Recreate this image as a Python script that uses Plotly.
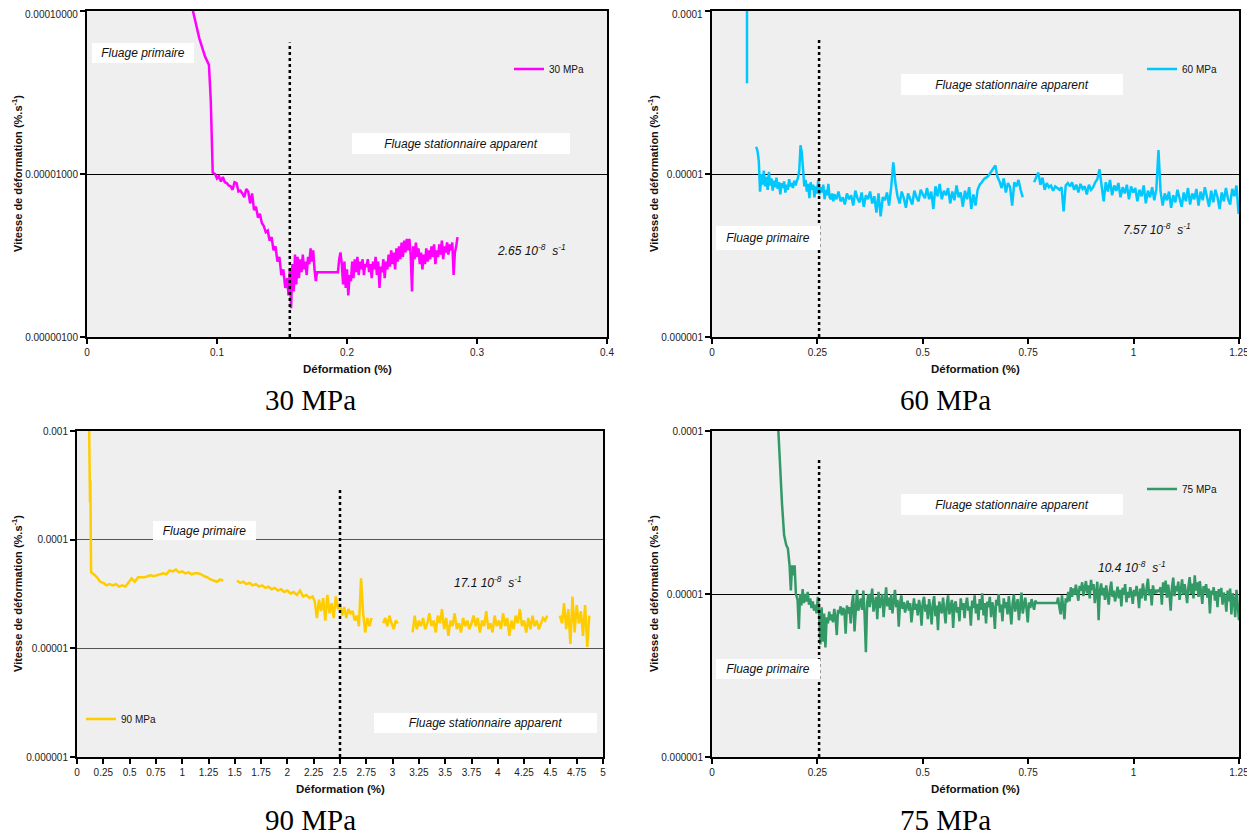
import plotly.graph_objects as go

# ---------------------------------------------------------------
# DATA  (strain in %, strain rate listed in units of 1e-6 %/s)
# ---------------------------------------------------------------
U = 1e-6

def sampled(x0, dx, ys):
    """x positions of a regularly sampled record (start, step)."""
    return [round(x0 + i * dx, 5) for i in range(len(ys))]

# ---- 30 MPa ----
x30_head = [0.0815, 0.0864, 0.0908, 0.0938, 0.0952, 0.0967]
y30_head = [100, 68, 52.5, 46.7, 28.4, 10.2]
y30_decay = [10.0, 9.4, 9.7, 9.0, 9.6, 8.9, 8.8, 8.5, 8.4, 8.0, 8.9, 8.8, 7.8, 7.9, 7.6, 7.2,
             8.1, 7.8, 6.6, 7.6, 6.0, 6.3, 5.4, 5.7, 5.0, 4.8, 4.4, 4.5, 3.9, 4.1, 3.4, 3.6,
             2.9, 3.1, 2.4, 2.6, 2.0]                         # from 0.0985 %, every 0.0015 %
y30_min = [2.3, 1.8, 2.6, 1.5, 2.8, 1.9, 3.2, 2.1, 3.1, 2.3, 3.0, 2.5, 3.2, 2.6, 2.9, 2.4,
           3.1, 2.8, 3.5, 2.9, 3.4, 2.6, 2.2, 2.5]            # from 0.154 %, every 0.001 %
x30_flat = [0.193]
y30_flat = [2.5]
y30_steady = [3.0, 3.3, 2.8, 2.1, 2.9, 2.0, 2.6, 1.8, 2.4, 2.2, 2.9, 2.3, 3.0, 2.5, 3.1, 2.4,
              2.9, 2.6, 3.0, 2.4, 2.8, 2.7, 3.0, 2.5, 2.8, 2.3, 2.9, 2.6, 3.1, 2.4, 2.9, 2.0,
              2.7, 2.5, 3.0, 2.3, 2.9, 2.6, 3.2, 2.7, 3.4, 2.8, 3.3, 2.6, 3.5, 2.9, 3.6, 3.0,
              3.8, 3.1, 3.9, 3.3, 4.0, 3.4, 4.0, 3.2, 1.9, 3.6, 3.0, 3.8, 3.1, 3.5, 2.8, 3.3,
              2.6, 3.2, 2.8, 3.5, 2.9, 3.4, 3.0, 3.6, 3.1, 3.7, 2.8, 3.4, 3.1, 3.7, 3.2, 3.9,
              3.0, 3.6, 3.3, 3.8, 3.2, 3.7, 3.4, 3.8, 2.4, 3.3, 3.6, 4.1]   # from 0.194 %, every 0.001 %

# ---- 60 MPa ----
x60_start = [0.083, 0.083]
y60_start = [120, 36]
y60_a = [14.7, 13.8, 12.0, 7.8, 10.0, 8.6, 10.5, 8.4, 9.6, 8.0, 10.3, 8.5, 9.4, 7.9, 9.1, 8.3,
         9.5, 8.1, 8.9, 7.5, 8.8, 8.2, 9.0, 7.7, 8.6, 8.0, 9.3, 8.4, 8.8, 8.2, 9.1, 8.5,
         9.0, 9.5, 10.5, 15.0, 13.5, 10.2, 8.4, 9.2, 7.8, 8.7, 7.1, 8.9, 8.0, 8.6, 7.2, 8.4,
         7.6, 9.2, 7.5, 8.3, 7.7, 8.6, 7.0, 8.0, 7.4, 8.7, 7.2, 7.0, 7.6, 6.8]   # from 0.105 %, every 0.003 %
y60_b = [7.5, 7.0, 7.8, 6.8, 7.2, 6.5, 7.6, 7.0, 7.4, 6.4, 7.9, 7.1, 6.7, 7.7, 6.3, 7.4,
         7.0, 7.8, 6.6, 7.3, 5.8, 7.6, 5.5, 7.2, 6.9, 7.7, 6.4, 8.3, 11.8, 8.8, 7.3, 6.6,
         7.8, 7.1, 6.2, 7.6, 7.0, 6.5, 7.9, 7.2, 6.8, 8.0, 7.5, 7.1, 8.2, 7.0, 7.8, 6.1,
         8.4, 7.3, 8.7, 7.0, 7.9, 7.4, 8.2, 6.6, 7.8, 6.9, 8.5, 7.2, 7.7, 6.3, 7.9, 7.0,
         8.3, 6.1, 7.5, 6.4, 8.0, 8.6, 8.9, 9.3, 9.5, 9.7]               # from 0.290 %, every 0.005 %
y60_c = [11.3, 9.6, 9.0, 8.2, 9.4, 7.7, 8.8, 8.3, 6.4, 8.9, 8.4, 9.2, 8.0, 7.2]   # from 0.672 %, every 0.005 %
y60_d = [8.9, 9.6, 10.2, 8.6, 9.5, 8.0, 8.8, 8.3, 8.5, 7.9, 8.4, 8.2, 8.0, 8.3, 5.9, 8.5,
         8.8, 8.4, 8.9, 8.0, 8.6, 7.7, 8.7, 8.1, 8.4, 7.5, 8.6, 8.0, 8.3, 8.9, 9.3, 10.7,
         8.6, 6.8, 8.9, 7.8, 9.2, 7.4, 8.5, 7.9, 8.8, 7.2, 8.3, 7.6, 8.6, 7.0, 8.4, 7.7,
         8.2, 6.8, 8.0, 7.3, 8.5, 6.6, 7.9, 7.2, 8.3, 6.9, 8.1, 14.0, 7.8, 6.4, 7.6, 6.9,
         7.8, 6.2, 7.4, 6.7, 8.0, 7.0, 6.3, 7.7, 6.8, 8.2, 6.5, 7.6, 7.0, 8.1, 6.4, 7.8,
         6.9, 8.3, 7.1, 6.3, 7.9, 6.7, 8.0, 7.2, 6.1, 7.7, 6.8, 8.2, 7.0, 6.5, 8.1, 7.3,
         8.5, 5.7]                                                        # from 0.764 %, every 0.005 %

# ---- 90 MPa ----
x90_head = [0.115, 0.118, 0.121, 0.124, 0.127, 0.130, 0.134]
y90_head = [1100, 400, 700, 220, 350, 150, 50]
y90_a = [48, 45, 41, 40, 38, 39, 38, 39, 37, 38, 37, 40, 44, 41, 45, 45, 45, 46, 47, 46, 47,
         48, 49, 48, 52, 51, 53, 50, 51, 49, 50, 48, 49, 49, 48, 46, 45, 43, 42, 41, 43, 42]  # from 0.16 %, every 0.03 %
y90_b = [42, 40, 41, 39, 40, 38, 39, 37, 38, 36, 37, 35, 36, 34, 35, 33, 34, 32, 33, 31, 34,
         30, 31, 29, 30]                                                  # from 1.52 %, every 0.03 %
y90_c = [27, 19, 28, 22, 29, 18, 31, 21, 26, 19, 30, 23, 26, 20, 24, 19, 23, 21, 22, 18, 20,
         16, 44, 21, 14, 19, 16, 19]                                      # from 2.26 %, every 0.02 %
y90_d = [17, 19, 16, 20, 17, 15, 18, 17]                                  # from 2.91 %, every 0.02 %
y90_e = [14, 20, 15, 18, 16, 19, 15, 17, 21, 16, 18, 14, 20, 17, 23, 15, 19, 13, 18, 16, 21,
         15, 17, 14, 19, 16, 18, 15, 17, 20, 16, 19, 14, 18, 16, 22, 15, 17, 14, 20, 16, 18,
         15, 21, 16, 19, 13, 18, 15, 20, 17, 23, 16, 18, 14, 19, 15, 20, 16, 18, 15, 17, 19,
         18, 20]                                                          # from 3.19 %, every 0.02 %
y90_f = [20, 17, 26, 15, 23, 11, 30, 14, 25, 17, 22, 13, 25, 10.3, 20]  # from 4.59 %, every 0.02 %

# ---- 75 MPa ----
x75_head = [0.157, 0.162, 0.166, 0.171, 0.176, 0.180, 0.184, 0.187, 0.190, 0.193, 0.196,
            0.199, 0.203, 0.206]
y75_head = [105, 55, 36, 23, 20, 19, 15, 10.5, 15, 13, 15, 10, 9.2, 6.1]
y75_a = [10.0, 8.5, 10.7, 8.8, 10.0, 9.0, 10.3, 8.6, 9.4, 8.2, 9.0, 7.9, 8.6, 7.6, 9.6, 7.8,
         4.9, 8.3, 5.1, 7.6, 4.7, 7.2, 6.6, 7.8, 6.9, 7.5, 6.7, 8.1, 7.2, 5.6, 8.0, 7.6,
         8.4, 7.4, 8.2, 7.9, 5.7, 8.5, 7.6, 8.3, 6.6, 8.8, 9.9, 5.9, 8.7, 10.6, 7.9, 8.6,
         9.4, 8.0, 10.5, 7.4, 4.4, 8.9, 10.0, 8.3, 9.2, 10.8, 7.8, 8.5, 9.6, 7.0, 10.3, 8.2,
         8.9, 10.0, 7.2, 8.6, 11.0, 8.4, 9.5, 8.0, 10.0, 7.6, 8.8, 10.6, 8.3, 9.2, 6.3, 8.7,
         9.8, 8.1, 8.9, 7.7, 8.4, 9.1, 7.9, 8.8, 6.7, 8.5, 9.4, 8.0, 8.7, 7.4, 9.2, 8.3,
         6.4, 8.9, 9.6, 7.8, 8.6, 7.0, 9.3, 8.1, 6.5, 8.8, 9.7, 7.3, 8.5, 6.0, 9.0, 8.2,
         7.6, 9.5, 8.0, 6.6, 8.7, 9.8, 7.5, 8.4, 9.2, 6.2, 8.6, 9.0, 7.7, 8.3, 6.8, 9.4,
         8.0, 8.8, 7.1, 8.6, 9.5, 7.9, 8.4, 6.4, 9.1, 8.2, 9.8, 7.6, 8.7, 6.9, 9.3, 8.0,
         10.1, 7.4, 8.8, 6.6, 9.0, 8.3, 9.6, 7.2, 8.9, 8.1, 6.1, 9.2, 8.5, 10.0, 7.7, 8.6,
         6.8, 9.4, 8.2, 8.9, 7.5, 9.7, 8.0, 6.5, 8.8, 9.9, 7.8, 8.6, 9.3, 6.9, 8.4, 10.2,
         7.6, 8.8, 9.5, 8.1, 6.7, 8.9, 8.2, 9.3, 8.5, 8.0, 9.1, 8.8]     # from 0.209 %, every 0.003 %
x75_flat = [0.818]
y75_flat = [8.8]
y75_b = [9.5, 8.3, 7.5, 9.8, 8.6, 7.0, 9.4, 8.9, 10.3, 9.0, 11.0, 9.6, 10.8, 9.9, 11.4, 10.2,
         9.1, 11.2, 10.5, 11.8, 9.7, 10.9, 12.0, 10.1, 11.3, 9.4, 12.2, 10.6, 11.5, 8.8, 10.9,
         11.9, 6.9, 10.4, 11.6, 9.8, 10.9, 9.2, 11.3, 10.0, 8.6, 10.7, 11.9, 9.6, 10.5, 9.0,
         10.2, 11.1, 9.4, 10.6, 8.4, 10.9, 9.9, 11.5, 8.9, 10.3, 9.5, 11.0, 10.1, 8.7, 10.6,
         9.7, 11.2, 10.0, 8.2, 10.8, 9.4, 11.6, 10.3, 9.1, 10.9, 12.4, 9.8, 10.7, 8.5, 11.3,
         10.0, 10.6, 10.3, 10.5, 10.4, 11.0, 8.6, 11.8, 10.2, 12.1, 9.5, 11.4, 10.0, 7.9, 11.0,
         12.6, 9.7, 11.2, 10.4, 11.9, 9.2, 10.8, 12.3, 9.9, 11.5, 10.2, 8.8, 11.1, 12.7, 10.0,
         11.6, 9.4, 13.0, 10.5, 11.8, 9.6, 12.0, 10.3, 8.7, 11.2, 10.1, 11.5, 9.5, 10.8, 7.6,
         10.5, 9.9, 11.0, 9.1, 10.4, 8.3, 10.7, 9.6, 10.9, 8.6, 10.2, 9.4, 7.8, 10.5, 9.0,
         10.8, 7.5, 10.1, 9.3, 7.2, 10.6, 8.4, 6.9]                       # from 0.821 %, every 0.003 %

# transition strain (end of primary creep) and apparent steady-state rates
divider_x = {"30": 0.156, "60": 0.254, "90": 2.5, "75": 0.254}
divider_top = {"30": 64, "60": 69, "90": 305, "75": 68}       # in 1e-6 %/s
steady_rate = {"30": "2.65", "60": "7.57", "90": "17.1", "75": "10.4"}


def join(*segments, gap=0.02):
    xs, ys = [], []
    for sx, sy in segments:
        if xs and sx[0] - xs[-1] > gap:
            xs.append(None); ys.append(None)
        xs += list(sx)
        ys += [v * U for v in sy]
    return xs, ys


x30, y30 = join((x30_head, y30_head), (sampled(0.0985, 0.0015, y30_decay), y30_decay),
                (sampled(0.154, 0.001, y30_min), y30_min), (x30_flat, y30_flat),
                (sampled(0.194, 0.001, y30_steady), y30_steady), gap=1)
x60, y60 = join((x60_start, y60_start), (sampled(0.105, 0.003, y60_a), y60_a),
                (sampled(0.290, 0.005, y60_b), y60_b), (sampled(0.672, 0.005, y60_c), y60_c),
                (sampled(0.764, 0.005, y60_d), y60_d))
x90, y90 = join((x90_head, y90_head), (sampled(0.16, 0.03, y90_a), y90_a),
                (sampled(1.52, 0.03, y90_b), y90_b), (sampled(2.26, 0.02, y90_c), y90_c),
                (sampled(2.91, 0.02, y90_d), y90_d), (sampled(3.19, 0.02, y90_e), y90_e),
                (sampled(4.59, 0.02, y90_f), y90_f), gap=0.05)
x75, y75 = join((x75_head, y75_head), (sampled(0.209, 0.003, y75_a), y75_a),
                (x75_flat, y75_flat), (sampled(0.821, 0.003, y75_b), y75_b), gap=1)

# ---------------------------------------------------------------
# FIGURE   (page has an 8 px body margin: figure starts at 8,8)
# ---------------------------------------------------------------
OFF = 8
W, H = 1255 - OFF, 838 - OFF
SANS = "Liberation Sans, Arial, sans-serif"
SERIF = "Liberation Serif, Times New Roman, serif"

def fx(px):
    return (px - OFF) / W

def fy(py):
    return 1 - (py - OFF) / H

panels = [
    # key, xaxis, yaxis, colour, x extent (px), y extent (px)
    ("30", "x", "y", "#ff00ff", (87, 607), (11, 337)),
    ("60", "x2", "y2", "#00c8ff", (712, 1239), (11, 337)),
    ("90", "x3", "y3", "#ffcc00", (77, 603), (431, 757)),
    ("75", "x4", "y4", "#339966", (712, 1239), (431, 757)),
]
series = {"30": (x30, y30), "60": (x60, y60), "90": (x90, y90), "75": (x75, y75)}
legend_ids = {"30": "legend", "60": "legend2", "90": "legend3", "75": "legend4"}

fig = go.Figure()
for key, xa, ya, col, _, _ in panels:
    xs, ys = series[key]
    fig.add_trace(go.Scatter(x=xs, y=ys, mode="lines", name=f"{key} MPa",
                             line=dict(color=col, width=2.5), xaxis=xa, yaxis=ya,
                             legend=legend_ids[key], connectgaps=False))
    fig.add_trace(go.Scatter(x=[divider_x[key], divider_x[key]],
                             y=[1e-6, divider_top[key] * U],
                             mode="lines", line=dict(color="black", width=2.5, dash="dot"),
                             xaxis=xa, yaxis=ya, showlegend=False, hoverinfo="skip"))

tickfont = dict(family=SANS, size=10, color="#222")
base_x = dict(showline=True, linecolor="black", linewidth=2, mirror=True, ticks="outside",
              ticklen=5, tickwidth=1.5, tickcolor="black", tickfont=tickfont,
              showgrid=False, zeroline=False, automargin=False, ticklabeloverflow="allow")
base_y = dict(base_x, type="log", showgrid=True, gridcolor="black", gridwidth=1)

x_ticks = {
    "30": ([0, 0.1, 0.2, 0.3, 0.4], ["0", "0.1", "0.2", "0.3", "0.4"], [0, 0.4]),
    "60": ([0, 0.25, 0.5, 0.75, 1, 1.25], ["0", "0.25", "0.5", "0.75", "1", "1.25"], [0, 1.25]),
    "90": ([i * 0.25 for i in range(21)],
           ["0", "0.25", "0.5", "0.75", "1", "1.25", "1.5", "1.75", "2", "2.25", "2.5", "2.75",
            "3", "3.25", "3.5", "3.75", "4", "4.25", "4.5", "4.75", "5"], [0, 5]),
    "75": ([0, 0.25, 0.5, 0.75, 1, 1.25], ["0", "0.25", "0.5", "0.75", "1", "1.25"], [0, 1.25]),
}
y_ticks = {
    "30": ([1e-6, 1e-5, 1e-4], ["0.00000100", "0.00001000", "0.00010000"], [-6, -4]),
    "60": ([1e-6, 1e-5, 1e-4], ["0.000001", "0.00001", "0.0001"], [-6, -4]),
    "90": ([1e-6, 1e-5, 1e-4, 1e-3], ["0.000001", "0.00001", "0.0001", "0.001"], [-6, -3]),
    "75": ([1e-6, 1e-5, 1e-4], ["0.000001", "0.00001", "0.0001"], [-6, -4]),
}

layout = dict(width=W, height=H, margin=dict(l=0, r=0, t=0, b=0, autoexpand=False),
              paper_bgcolor="white", plot_bgcolor="#efefef", showlegend=True)
annotations = []
CENTER = dict(xanchor="center", yanchor="middle", showarrow=False)

for n, (key, xa, ya, col, (px0, px1), (py0, py1)) in enumerate(panels, start=1):
    sfx = "" if n == 1 else str(n)
    tv, tt, xr = x_ticks[key]
    layout[f"xaxis{sfx}"] = dict(base_x, domain=[fx(px0), fx(px1)], anchor=ya, range=xr,
                                 tickvals=tv, ticktext=tt)
    yv, yt, yr = y_ticks[key]
    yt = list(yt)
    if py0 < 20:
        # top label of the upper panels sits at the page edge: drawn just below it
        annotations.append(dict(text=yt[-1], xref="paper", yref="paper", x=fx(px0 - 7),
                                y=fy(py0 + 3), xanchor="right", yanchor="middle",
                                showarrow=False, font=tickfont))
        yt[-1] = ""
    ycfg = dict(base_y, domain=[fy(py1), fy(py0)], anchor=xa, range=yr,
                tickvals=yv, ticktext=yt)
    if key == "90":
        ycfg["gridcolor"] = "#555555"
    layout[f"yaxis{sfx}"] = ycfg

    # axis titles
    annotations.append(dict(CENTER, text="<b>Déformation (%)</b>", xref="paper", yref="paper",
                            x=fx((px0 + px1) / 2), y=fy(py1 + 32),
                            font=dict(family=SANS, size=11.5, color="#111")))
    ytx = 17 if key in ("30", "90") else 653
    annotations.append(dict(CENTER, text="<b>Vitesse de déformation (%.s<sup>-1</sup>)</b>",
                            xref="paper", yref="paper", x=fx(ytx), y=fy((py0 + py1) / 2),
                            textangle=-90, font=dict(family=SANS, size=11, color="#111")))
    # panel caption
    annotations.append(dict(CENTER, text=f"{key} MPa", xref="paper", yref="paper",
                            x=fx(310 if key in ("30", "90") else 945), y=fy(py1 + 63),
                            font=dict(family=SERIF, size=29, color="black")))

# text boxes (in axis-domain fractions)
box_font = dict(family=SANS, size=12, color="#111")
boxes = [
    ("x", "y", "Fluage primaire", 0.1077, 0.871, 98, 16),
    ("x", "y", "Fluage stationnaire apparent", 0.719, 0.5936, 214, 17),
    ("x2", "y2", "Fluage stationnaire apparent", 0.569, 0.7745, 218, 17),
    ("x2", "y2", "Fluage primaire", 0.106, 0.3037, 100, 20),
    ("x3", "y3", "Fluage primaire", 0.2424, 0.6963, 99, 15),
    ("x3", "y3", "Fluage stationnaire apparent", 0.7766, 0.1043, 219, 16),
    ("x4", "y4", "Fluage stationnaire apparent", 0.569, 0.7745, 218, 17),
    ("x4", "y4", "Fluage primaire", 0.106, 0.27, 100, 16),
]
for xa, ya, txt, bx, by, w, h in boxes:
    annotations.append(dict(CENTER, text=f"<i>{txt}</i>", xref=f"{xa} domain",
                            yref=f"{ya} domain", x=bx, y=by, bgcolor="white", width=w,
                            height=h, borderpad=2, borderwidth=0, font=box_font))

rate_pos = {"30": ("x", "y", 0.854, 0.267), "60": ("x2", "y2", 0.844, 0.331),
            "90": ("x3", "y3", 0.781, 0.537), "75": ("x4", "y4", 0.797, 0.583)}
for key, (xa, ya, bx, by) in rate_pos.items():
    annotations.append(dict(CENTER,
                            text=f"<i>{steady_rate[key]} 10<sup>-8</sup>  s<sup>-1</sup></i>",
                            xref=f"{xa} domain", yref=f"{ya} domain", x=bx, y=by,
                            font=box_font))

layout["annotations"] = annotations

leg = dict(xanchor="left", yanchor="middle", bgcolor="rgba(0,0,0,0)", borderwidth=0,
           font=dict(family=SANS, size=10, color="#111"), itemwidth=30)
layout["legend"] = dict(leg, x=fx(509), y=fy(69))
layout["legend2"] = dict(leg, x=fx(1142), y=fy(69))
layout["legend3"] = dict(leg, x=fx(81), y=fy(719))
layout["legend4"] = dict(leg, x=fx(1142), y=fy(489))

fig.update_layout(**layout)
fig.write_html("out.html")
